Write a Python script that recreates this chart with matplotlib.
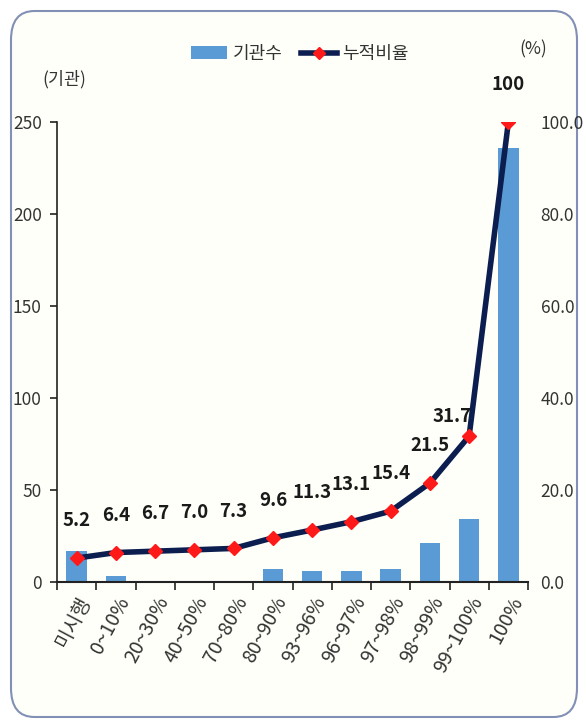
import matplotlib
matplotlib.use("Agg")
import matplotlib.pyplot as plt
from matplotlib.patches import FancyBboxPatch
from matplotlib.lines import Line2D
from matplotlib.patches import Patch

plt.rcParams['font.family'] = ['Noto Sans CJK KR', 'DejaVu Sans']

categories = ['미시행', '0~10%', '20~30%', '40~50%', '70~80%', '80~90%',
              '93~96%', '96~97%', '97~98%', '98~99%', '99~100%', '100%']
counts = [17, 3, 0, 0, 0, 7, 6, 6, 7, 21, 34, 236]
cum_ratio = [5.2, 6.4, 6.7, 7.0, 7.3, 9.6, 11.3, 13.1, 15.4, 21.5, 31.7, 100]
cum_labels = ['5.2', '6.4', '6.7', '7.0', '7.3', '9.6', '11.3', '13.1', '15.4', '21.5', '31.7', '100']
left_ticks = [0, 50, 100, 150, 200, 250]
right_ticks = [0, 20, 40, 60, 80, 100]

bg = '#fffffa'
txt = '#333333'

fig = plt.figure(figsize=(5.86, 7.25), dpi=100)
fig.patch.set_facecolor('white')
frame = FancyBboxPatch((11/586, 8/725), 566/586, 706/725,
                       boxstyle="round,pad=0,rounding_size=0.04",
                       transform=fig.transFigure, facecolor=bg,
                       edgecolor='#8190b4', linewidth=1.5, zorder=-10)
fig.patches.append(frame)

ax = fig.add_axes([57/586, 1-582/725, (528-57)/586, (582-122)/725])
ax.set_facecolor('none')
x = list(range(len(categories)))
ax.bar(x, counts, width=0.52, color='#5b9bd5', zorder=2)
ax.set_xlim(-0.5, len(categories)-0.5)
ax.set_ylim(0, 250)
ax.set_yticks(left_ticks)
ax.set_yticklabels([str(v) for v in left_ticks], fontsize=12.5, color=txt)
ax.set_xticks([i - 0.5 for i in range(len(categories)+1)], minor=False)
ax.set_xticklabels([])
ax.set_xticks(x, minor=True)
ax.set_xticklabels(categories, minor=True, rotation=62, ha='right', rotation_mode='anchor',
                   fontsize=14, color=txt)
ax.tick_params(axis='x', which='minor', length=0, pad=8)
ax.tick_params(axis='x', which='major', length=6, width=1.2, color='#222222', direction='out')
ax.tick_params(axis='y', length=5, width=1.2, color='#222222', pad=6)
for s in ['top', 'right']:
    ax.spines[s].set_visible(False)
ax.spines['left'].set_linewidth(1.2)
ax.spines['bottom'].set_linewidth(1.5)
ax.spines['left'].set_color('#222222')
ax.spines['bottom'].set_color('#222222')

ax2 = ax.twinx()
ax2.set_ylim(0, 100)
ax2.set_yticks(right_ticks)
ax2.set_yticklabels(['%.1f' % v for v in right_ticks], fontsize=12.5, color=txt)
ax2.tick_params(axis='y', length=0, pad=9)
for s in ['top', 'right', 'left', 'bottom']:
    ax2.spines[s].set_visible(False)
ax2.plot(x, cum_ratio, color='#0c1d4f', linewidth=4, zorder=3,
         marker='D', markersize=7, markerfacecolor='#ff1a1a', markeredgecolor='#ff1a1a',
         solid_capstyle='round')
for i, (xi, yi, lab) in enumerate(zip(x, cum_ratio, cum_labels)):
    if i == len(x) - 2:
        off = (-12, 7)
    else:
        off = (0, 20)
    ax2.annotate(lab, (xi, yi), xytext=off, textcoords='offset points',
                 ha='center', va='bottom', fontsize=13.5, fontweight='bold',
                 color='#1a1a1a')

fig.text(42/586, 1-79/725, '(기관)', fontsize=12.5, color=txt, ha='left', va='center')
fig.text(533/586, 1-49/725, '(%)', fontsize=12.5, color=txt, ha='center', va='center')

handles = [Patch(facecolor='#5b9bd5', edgecolor='none'),
           Line2D([0], [0], color='#0c1d4f', linewidth=4, marker='D', markersize=6,
                  markerfacecolor='#ff1a1a', markeredgecolor='#ff1a1a')]
fig.legend(handles, ['기관수', '누적비율'], loc='center', bbox_to_anchor=(300/586, 1-54/725),
           ncol=2, frameon=False, fontsize=13, handlelength=2.0, columnspacing=1.0,
           handletextpad=0.3, labelcolor=txt)

fig.savefig('out.png', dpi=100, facecolor=fig.get_facecolor())
